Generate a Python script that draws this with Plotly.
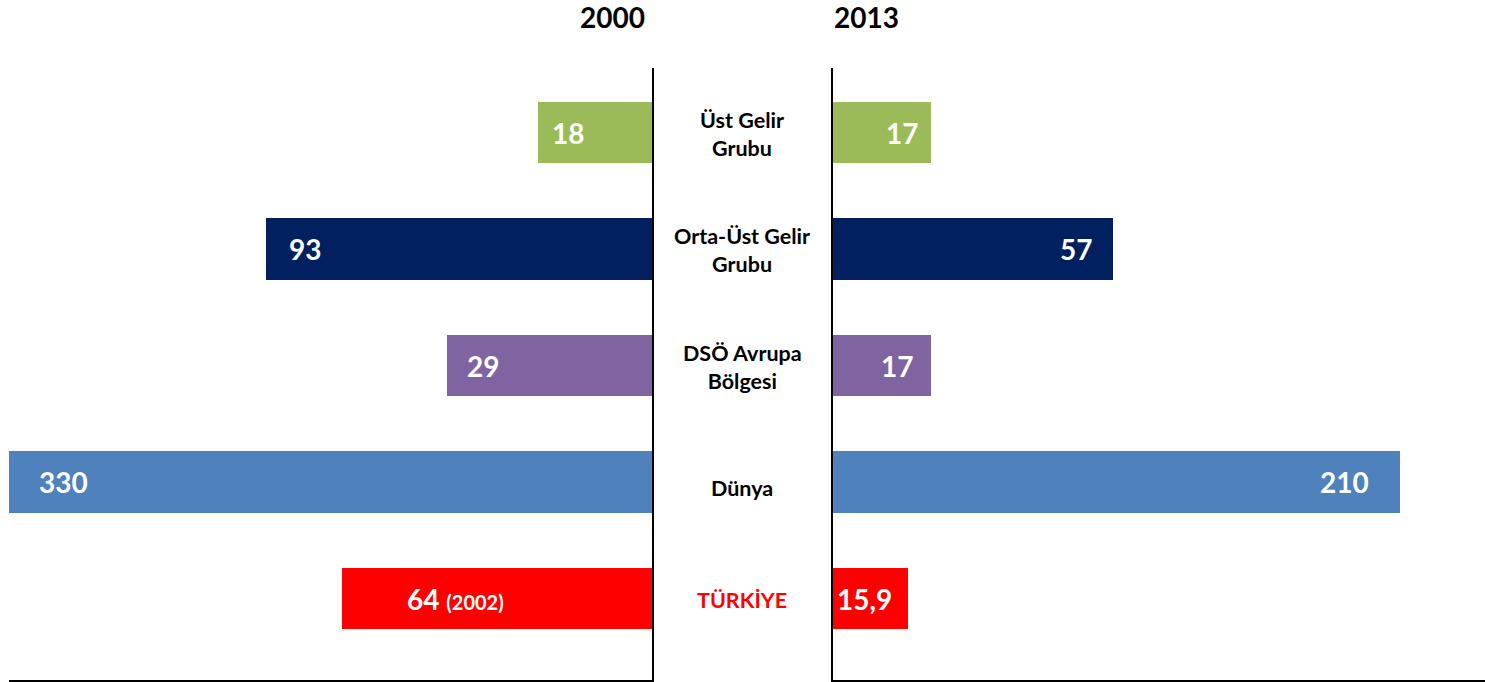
import plotly.graph_objects as go

# ---- data ----
categories = ["Üst Gelir<br>Grubu", "Orta-Üst Gelir<br>Grubu", "DSÖ Avrupa<br>Bölgesi", "Dünya", "TÜRKİYE"]
years = ["2000", "2013"]
values_2000 = [18, 93, 29, 330, 64]
values_2013 = [17, 57, 17, 210, 15.9]
note_2000 = ["", "", "", "", "(2002)"]
# drawn bar lengths as measured in the source graphic (it is not drawn to scale)
bar_len_2000 = [58.5, 198.1, 105.2, 330, 159.1]
bar_len_2013 = [36.3, 103.7, 36.3, 210, 27.8]
colors = ["#9BBB59", "#002060", "#8064A2", "#4F81BD", "#FF0000"]

W, H = 1485, 682
FONT = "Lato"
ypos = list(range(len(categories)))


def fmt(v):
    s = f"{v:g}"
    return s.replace(".", ",")


fig = go.Figure()
fig.add_trace(go.Bar(x=bar_len_2000, y=ypos, orientation="h", marker=dict(color=colors, line=dict(width=0)),
                     width=0.525, xaxis="x", yaxis="y", hoverinfo="skip", showlegend=False))
fig.add_trace(go.Bar(x=bar_len_2013, y=ypos, orientation="h", marker=dict(color=colors, line=dict(width=0)),
                     width=0.525, xaxis="x2", yaxis="y2", hoverinfo="skip", showlegend=False))

annotations = []
pad_left = [14, 23, 20, 30, 65]
pad_right = [13, 21, 18, 31, 16]
label_shift = [-1, -1, -1, -6, -1]
for i in ypos:
    t = fmt(values_2000[i])
    if note_2000[i]:
        t += f' <span style="font-size:20px">{note_2000[i]}</span>'
    annotations.append(dict(x=bar_len_2000[i], y=i, xref="x", yref="y", text=t, showarrow=False,
                            xanchor="left", yanchor="middle", xshift=pad_left[i] - 2,
                            font=dict(family=FONT, size=28, color="white", weight="bold")))
    annotations.append(dict(x=bar_len_2013[i], y=i, xref="x2", yref="y2", text=fmt(values_2013[i]), showarrow=False,
                            xanchor="right", yanchor="middle", xshift=-(pad_right[i] - 2),
                            font=dict(family=FONT, size=28, color="white", weight="bold")))
    annotations.append(dict(x=742 / W, y=i, xref="paper", yref="y", text=categories[i], showarrow=False,
                            xanchor="center", yanchor="middle", yshift=label_shift[i],
                            font=dict(family=FONT, size=21.5, weight="bold",
                                      color="#FF0000" if categories[i] == "TÜRKİYE" else "black")))

for yr, xc in zip(years, [612.5, 866]):
    annotations.append(dict(x=xc / W, y=1 - 17 / H, xref="paper", yref="paper", text=yr, showarrow=False,
                            xanchor="center", yanchor="middle",
                            font=dict(family=FONT, size=28, color="black", weight="bold")))

ydom = [(H - 680) / H, (H - 68) / H]
yrange = [(680 - 132.5) / 116.5, (68 - 132.5) / 116.5]

fig.update_layout(
    width=W, height=H, margin=dict(l=0, r=0, t=0, b=0),
    paper_bgcolor="white", plot_bgcolor="white",
    bargap=0,
    xaxis=dict(domain=[9 / W, 652 / W], range=[330, 0], showgrid=False, zeroline=False, showticklabels=False,
               showline=True, linecolor="black", linewidth=2, ticks=""),
    yaxis=dict(domain=ydom, range=yrange, side="right", showgrid=False, zeroline=False, showticklabels=False,
               showline=True, linecolor="black", linewidth=2, ticks=""),
    xaxis2=dict(domain=[833 / W, 1], range=[0, 652 / 2.7], anchor="y2", showgrid=False, zeroline=False,
                showticklabels=False, showline=True, linecolor="black", linewidth=2, ticks=""),
    yaxis2=dict(domain=ydom, range=yrange, anchor="x2", side="left", showgrid=False, zeroline=False,
                showticklabels=False, showline=True, linecolor="black", linewidth=2, ticks=""),
    annotations=annotations,
    font=dict(family=FONT),
)

fig.write_html("out.html", config={"displayModeBar": False},
               post_script="document.body.style.margin='0';")
